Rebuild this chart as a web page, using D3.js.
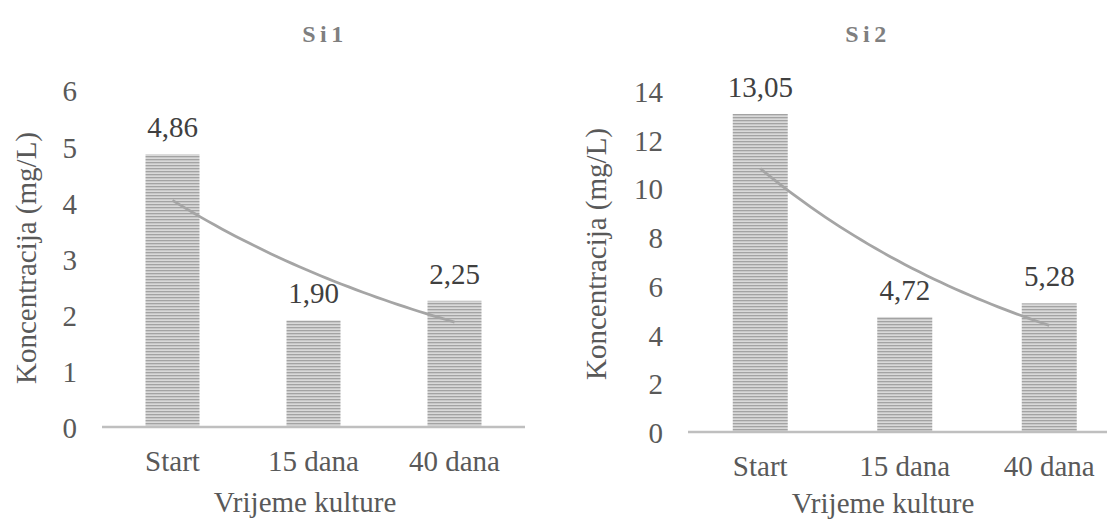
<!DOCTYPE html>
<html>
<head>
<meta charset="utf-8">
<script src="https://cdn.jsdelivr.net/npm/d3@7"></script>
</head>
<body style="margin:0">
<svg id="chart" width="1107" height="520"></svg>
<script>
// ---- data ----
const categories = ["Start", "15 dana", "40 dana"];
const si1Values = [4.86, 1.90, 2.25];
const si2Values = [13.05, 4.72, 5.28];
const si1Ticks = [0, 1, 2, 3, 4, 5, 6];
const si2Ticks = [0, 2, 4, 6, 8, 10, 12, 14];
const chartTitles = ["Si1", "Si2"];
const yAxisTitle = "Koncentracija (mg/L)";
const xAxisTitle = "Vrijeme kulture";

const svg = d3.select("#chart");
const FONT = '"Liberation Serif", serif';
const FS = 29;

// stripe pattern for bars
const defs = svg.append("defs");
const pat = defs.append("pattern")
  .attr("id", "stripes")
  .attr("patternUnits", "userSpaceOnUse")
  .attr("width", 8).attr("height", 3);
pat.append("rect").attr("width", 8).attr("height", 3).attr("fill", "#d9d9d9");
pat.append("rect").attr("y", 0).attr("width", 8).attr("height", 1.3).attr("fill", "#a3a3a3");

// exponential trendline fit (y = a * e^(b x)), x = 1..n
function expFit(vals) {
  const xs = vals.map((_, i) => i + 1);
  const ls = vals.map(v => Math.log(v));
  const mx = d3.mean(xs), ml = d3.mean(ls);
  const b = d3.sum(xs.map((x, i) => (x - mx) * (ls[i] - ml))) / d3.sum(xs.map(x => (x - mx) ** 2));
  const a = ml - b * mx;
  return x => Math.exp(a + b * x);
}

function drawPanel(cfg) {
  const g = svg.append("g");
  const x = d3.scaleBand().domain(categories).range(cfg.xRange)
    .paddingInner(cfg.padIn).paddingOuter(cfg.padIn / 2);
  const y = d3.scaleLinear().domain([0, cfg.yMax]).range([cfg.y0, cfg.yTop]);

  // title
  g.append("text")
    .style("font-family", FONT)
    .attr("x", cfg.titleX).attr("y", 42)
    .attr("text-anchor", "middle")
    .attr("font-weight", "bold")
    .attr("font-size", 24).attr("letter-spacing", 4.5)
    .attr("fill", "#7f7f7f")
    .text(cfg.title);

  // y tick labels
  g.selectAll(".ytick").data(cfg.ticks).enter().append("text")
    .style("font-family", FONT)
    .attr("x", cfg.tickX).attr("y", d => y(d) + 11)
    .attr("text-anchor", "end")
    .attr("font-size", FS)
    .attr("fill", "#595959")
    .text(d => d);

  // y axis title
  g.append("text")
    .style("font-family", FONT)
    .attr("transform", `translate(${cfg.yTitleX},${cfg.yTitleY}) rotate(-90)`)
    .attr("text-anchor", "middle")
    .attr("font-size", FS)
    .attr("fill", "#595959")
    .text(yAxisTitle);

  // bars
  const vals = cfg.values;
  g.selectAll(".bar").data(vals).enter().append("rect")
    .attr("x", (d, i) => x(categories[i]))
    .attr("y", d => y(d))
    .attr("width", x.bandwidth())
    .attr("height", d => y(0) - y(d))
    .attr("fill", "url(#stripes)");

  // axis line
  g.append("line")
    .attr("x1", cfg.xRange[0]).attr("x2", cfg.xRange[1])
    .attr("y1", y(0)).attr("y2", y(0))
    .attr("stroke", "#bfbfbf").attr("stroke-width", 2.5);

  // trendline
  const f = expFit(vals);
  const pts = d3.range(0, 2.0001, 0.05).map(t => [x(categories[0]) + x.bandwidth() / 2 + t * x.step(), f(1 + t)]);
  g.append("path")
    .datum(pts)
    .attr("d", d3.line().x(d => d[0]).y(d => y(d[1])))
    .attr("fill", "none").attr("stroke", "#a5a5a5").attr("stroke-width", 2.8);

  // data labels
  g.selectAll(".lbl").data(vals).enter().append("text")
    .style("font-family", FONT)
    .attr("x", (d, i) => x(categories[i]) + x.bandwidth() / 2)
    .attr("y", d => y(d) - 17)
    .attr("text-anchor", "middle")
    .attr("font-size", FS)
    .attr("fill", "#404040")
    .text(d => d.toFixed(2).replace(".", ","));

  // category labels
  g.selectAll(".cat").data(categories).enter().append("text")
    .style("font-family", FONT)
    .attr("x", d => x(d) + x.bandwidth() / 2)
    .attr("y", y(0) + 44)
    .attr("text-anchor", "middle")
    .attr("font-size", FS)
    .attr("fill", "#595959")
    .text(d => d);

  // x axis title
  g.append("text")
    .style("font-family", FONT)
    .attr("x", cfg.xTitleX).attr("y", Math.min(y(0) + 85, 513))
    .attr("text-anchor", "middle")
    .attr("font-size", FS)
    .attr("fill", "#595959")
    .text(xAxisTitle);
}

drawPanel({
  title: chartTitles[0], titleX: 325, values: si1Values, ticks: si1Ticks,
  yMax: 6, y0: 427, yTop: 427 - 6 * 56.1,
  xRange: [102, 525], padIn: 1 - 54 / 141,
  tickX: 77, yTitleX: 36, yTitleY: 258, xTitleX: 305
});
drawPanel({
  title: chartTitles[1], titleX: 868, values: si2Values, ticks: si2Ticks,
  yMax: 14, y0: 432, yTop: 432 - 14 * 24.37,
  xRange: [688, 1121.5], padIn: 1 - 55 / 144.5,
  tickX: 663, yTitleX: 606, yTitleY: 254, xTitleX: 883
});
</script>
</body>
</html>
